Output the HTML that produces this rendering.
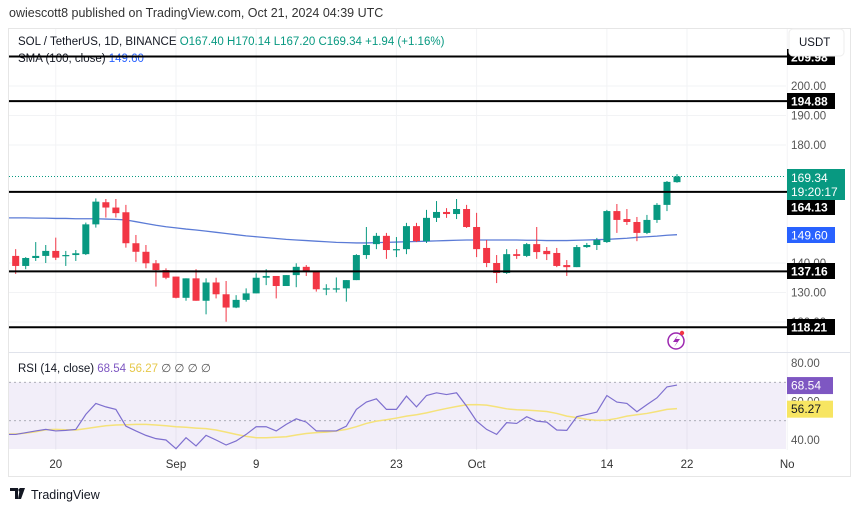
<!DOCTYPE html>
<html><head><meta charset="utf-8"><style>
body{margin:0;width:860px;height:511px;background:#fff;font-family:"Liberation Sans",sans-serif;overflow:hidden;position:relative}
.t{position:absolute;white-space:nowrap}
</style></head><body>
<div class="t" style="left:9px;top:6px;font-size:12.5px;color:#333">owiescott8 published on TradingView.com, Oct 21, 2024 04:39 UTC</div>
<svg id="c" width="860" height="511" style="position:absolute;left:0;top:0" font-family="Liberation Sans, sans-serif"></svg>
<script>
const dayIdx0=-16; // first candle: Aug 16
const opens=[142.4,139.0,141.7,142.4,144.1,142.4,142.7,143.0,153.1,160.6,158.8,157.2,146.7,143.8,139.9,137.6,135.4,128.2,134.8,127.2,133.4,129.4,124.9,127.5,129.7,135.0,135.6,132.2,135.9,138.7,137.4,131.1,131.1,131.4,134.2,142.7,146.4,149.2,144.4,144.7,152.5,147.4,155.3,157.3,156.6,158.3,152.2,145.1,140.0,136.6,143.0,142.4,146.4,144.1,143.4,139.3,138.6,145.4,146.1,147.1,157.6,154.9,153.9,150.2,154.6,159.7,167.4];
const highs=[144.7,142.0,147.1,146.1,148.6,144.1,144.4,153.7,161.9,161.7,161.7,159.7,149.5,146.1,141.0,138.2,135.4,134.8,137.9,134.8,135.0,133.9,129.1,131.4,136.5,137.9,135.6,135.9,139.9,139.3,137.4,132.8,135.1,134.2,143.0,152.2,150.2,150.2,148.8,153.6,153.6,158.0,161.0,158.6,161.7,159.7,157.0,147.8,142.7,144.7,144.7,146.8,152.2,145.4,145.1,141.0,146.1,146.8,148.5,158.0,160.0,158.3,155.6,156.3,160.3,167.8,170.14];
const lows=[136.3,137.9,140.7,140.0,141.0,139.0,140.7,142.7,152.0,155.4,155.4,145.2,140.4,138.2,132.0,134.5,128.0,127.2,127.2,122.6,128.0,120.1,124.7,126.9,129.7,132.5,128.0,132.2,131.8,135.6,130.3,129.1,130.0,126.9,134.2,141.4,144.7,141.4,142.0,143.0,147.1,146.8,153.9,155.3,154.9,151.9,142.0,138.6,133.2,136.3,141.4,142.0,141.4,141.0,138.6,135.6,138.6,145.1,144.4,146.8,150.2,152.9,147.4,149.8,153.6,157.6,167.2];
const closes=[139.0,141.7,142.4,144.1,141.8,142.7,143.3,153.1,160.8,158.8,156.9,146.7,143.8,139.9,137.6,135.0,128.2,134.8,127.2,133.4,129.4,124.9,127.5,129.7,135.0,135.6,132.2,135.9,138.7,137.0,131.1,131.4,131.4,134.2,142.7,146.1,149.2,144.4,144.7,152.5,147.4,155.3,157.3,156.6,158.3,152.2,144.7,140.0,136.6,143.0,142.4,146.4,143.7,143.0,139.0,138.6,145.4,146.1,147.8,157.6,154.6,153.9,150.2,154.6,159.7,167.5,169.34];
const sma=[155.3,155.3,155.2,155.2,155.1,155.1,155.0,155.0,155.0,154.9,154.8,154.6,154.0,153.4,152.8,152.3,151.9,151.5,151.2,150.8,150.4,150.0,149.6,149.2,148.9,148.6,148.3,148.0,147.8,147.6,147.4,147.2,147.0,146.9,146.8,146.8,146.9,147.0,147.1,147.2,147.3,147.4,147.5,147.6,147.7,147.8,147.8,147.8,147.8,147.8,147.8,147.7,147.7,147.6,147.6,147.6,147.7,147.8,147.9,148.0,148.2,148.4,148.7,148.9,149.1,149.4,149.6];
const rsi=[42.9,43.8,44.7,45.5,44.7,45.0,45.5,53.3,59.0,57.2,55.9,47.2,44.7,42.4,40.7,40.0,35.5,41.2,36.9,42.4,40.0,37.4,39.5,42.9,46.9,46.9,44.7,48.1,51.0,49.3,44.7,44.7,44.7,47.2,55.9,59.7,61.4,55.9,55.9,62.8,57.2,63.1,64.5,63.6,64.5,57.6,49.8,45.5,42.9,49.0,48.6,52.1,49.8,49.3,45.2,45.0,52.1,53.3,54.5,63.1,59.7,59.0,54.7,58.4,61.9,67.6,68.54];
const rsiMa=[43.1,43.6,44.3,45.3,45.5,45.3,45.2,45.9,46.7,47.4,47.8,47.9,48.1,48.1,47.8,47.4,46.9,46.6,46.2,45.9,45.2,44.1,42.9,41.9,41.2,41.2,41.4,41.7,42.6,43.4,43.8,44.1,44.7,45.5,46.9,48.6,49.8,50.5,51.4,52.4,53.1,54.1,55.3,56.4,57.4,58.3,58.4,58.1,57.2,56.2,55.7,55.5,55.2,54.8,53.8,52.4,51.6,50.7,50.2,50.3,51.2,52.4,53.1,53.8,54.8,55.9,56.27];
const levels=[209.98,194.88,164.13,137.16,118.21];
const levelLabelY=[57,101,207,271,327];
const priceTicks=[200,190,180,140,130,120];
const rsiTicks=[80,60,40];
const dateLabels=["20","Sep","9","23","Oct","14","22","No"];
const dateDays=[-12,0,8,22,30,43,51,61];

const svg=document.getElementById('c');
const NS='http://www.w3.org/2000/svg';
function el(tag,attrs,parent){const e=document.createElementNS(NS,tag);for(const k in attrs)e.setAttribute(k,attrs[k]);(parent||svg).appendChild(e);return e;}
const xDay=d=>176+d*10.02;
const xi=i=>xDay(dayIdx0+i);
const yP=p=>86+(200-p)*2.95;
const yR=v=>363+(80-v)*1.925;
const GREEN='#089981',RED='#f23645';

let e=el('rect',{x:8.5,y:28.5,width:842,height:448,fill:'none',stroke:'#e6e6e6'});

dateDays.forEach(d=>{const g=el('line',{x1:xDay(d),x2:xDay(d),y1:29,y2:450,stroke:'#f2f3f5'});
});
priceTicks.forEach(p=>{const g=el('line',{x1:9,x2:786,y1:yP(p),y2:yP(p),stroke:'#f2f3f5'});
});
e=el('line',{x1:9,x2:850,y1:352.5,y2:352.5,stroke:'#e0e3eb'});


let lg=el('text',{x:18,y:45,'font-size':11.5,fill:'#131722'});

lg.innerHTML='SOL / TetherUS, 1D, BINANCE <tspan fill="#089981"> O167.40  H170.14  L167.20  C169.34  +1.94 (+1.16%)</tspan>';
lg=el('text',{x:18,y:62,'font-size':11.5,fill:'#131722'});

lg.innerHTML='SMA (100, close) <tspan fill="#2962ff">149.60</tspan>';

e=el('line',{x1:9,x2:786,y1:yP(169.34),y2:yP(169.34),stroke:GREEN,'stroke-dasharray':'1 2','stroke-width':1});


let pts=sma.map((v,i)=>xi(i)+','+yP(v)).join(' ');
e=el('polyline',{points:'9,'+yP(sma[0])+' '+pts,fill:'none',stroke:'#5b7bd6','stroke-width':1.3});


opens.forEach((o,i)=>{
  const c=closes[i],col=c>=o?GREEN:RED,x=xi(i);
  const g=el('g',{});
  
  el('line',{x1:x,x2:x,y1:yP(highs[i]),y2:yP(lows[i]),stroke:col,'stroke-width':1},g);
  const top=yP(Math.max(o,c)),bot=yP(Math.min(o,c));
  el('rect',{x:x-3.5,y:top,width:7,height:Math.max(1.2,bot-top),fill:col},g);
});

levels.forEach(l=>{e=el('line',{x1:9,x2:787,y1:yP(l),y2:yP(l),stroke:'#000','stroke-width':2});
});

priceTicks.forEach(p=>{e=el('text',{x:791,y:yP(p)+4,'font-size':11.5,fill:'#555'});e.textContent=p.toFixed(2);
});
levels.forEach((l,k)=>{const y=levelLabelY[k];
 const g=el('g',{});
 el('rect',{x:787,y:y-8,width:48,height:16,fill:'#000'},g);
 const t=el('text',{x:791,y:y+4.5,'font-size':12,fill:'#fff','font-weight':'bold'},g);t.textContent=l.toFixed(2);});
let g=el('g',{});
el('rect',{x:787,y:169,width:58,height:31,fill:GREEN},g);
let t=el('text',{x:791,y:182,'font-size':12,fill:'#fff'},g);t.textContent='169.34';
t=el('text',{x:791,y:196,'font-size':12,fill:'#fff'},g);t.textContent='19:20:17';
g=el('g',{});
el('rect',{x:787,y:227,width:48,height:16,fill:'#2962ff'},g);
t=el('text',{x:791,y:239.5,'font-size':12,fill:'#fff'},g);t.textContent='149.60';
g=el('g',{});
el('rect',{x:789,y:29,width:55,height:27,rx:4,fill:'#fff',stroke:'#eee'},g);
t=el('text',{x:799,y:46,'font-size':11.5,fill:'#131722'},g);t.textContent='USDT';
g=el('g',{});
el('circle',{cx:676,cy:341,r:8,fill:'none',stroke:'#9c27b0','stroke-width':1.5},g);
el('path',{d:'M678 335 L673 342 L677 342 L674 347 L680 339 L676 339 Z',fill:'#9c27b0'},g);
el('circle',{cx:682,cy:333,r:2.2,fill:'#f23645'},g);

e=el('rect',{x:9,y:yR(70),width:777,height:449-yR(70),fill:'#7e57c2','fill-opacity':0.1});

[70,50].forEach(v=>{e=el('line',{x1:9,x2:786,y1:yR(v),y2:yR(v),stroke:'#9598a1','stroke-dasharray':'2 3','stroke-width':0.8});
});
pts=rsiMa.map((v,i)=>xi(i)+','+yR(v)).join(' ');
e=el('polyline',{points:'9,'+yR(rsiMa[0])+' '+pts,fill:'none',stroke:'#f5e27a','stroke-width':1.5});

pts=rsi.map((v,i)=>xi(i)+','+yR(v)).join(' ');
e=el('polyline',{points:'9,'+yR(rsi[0])+' '+pts,fill:'none',stroke:'#7e6fcf','stroke-width':1.2});

rsiTicks.forEach(v=>{e=el('text',{x:791,y:yR(v)+4,'font-size':11.5,fill:'#555'});e.textContent=v.toFixed(2);
});
g=el('g',{});
el('rect',{x:787,y:yR(rsi[66])-8,width:46,height:17,fill:'#7e57c2'},g);
t=el('text',{x:791,y:yR(rsi[66])+4.5,'font-size':12,fill:'#fff'},g);t.textContent='68.54';
g=el('g',{});
el('rect',{x:787,y:yR(rsiMa[66])-8,width:46,height:17,fill:'#f7e562'},g);
t=el('text',{x:791,y:yR(rsiMa[66])+4.5,'font-size':12,fill:'#131722'},g);t.textContent='56.27';
lg=el('text',{x:18,y:372,'font-size':11.5,fill:'#131722'});

lg.innerHTML='RSI (14, close) <tspan fill="#7e57c2">68.54</tspan> <tspan fill="#e6c84a">56.27</tspan> <tspan fill="#555">∅ ∅ ∅ ∅</tspan>';

dateLabels.forEach((s,k)=>{e=el('text',{x:xDay(dateDays[k]),y:468,'font-size':11.5,fill:'#333','text-anchor':'middle'});e.textContent=s;
});

g=el('g',{});
el('path',{d:'M10 488 h8 v11 h-3 v-8 h-5 Z M20 488 h5 l-4 11 h-3 Z',fill:'#131722'},g);
el('circle',{cx:20,cy:490,r:1.6,fill:'#131722'},g);
t=el('text',{x:31,y:499,'font-size':12.5,fill:'#131722'},g);t.textContent='TradingView';
</script>
</body></html>
